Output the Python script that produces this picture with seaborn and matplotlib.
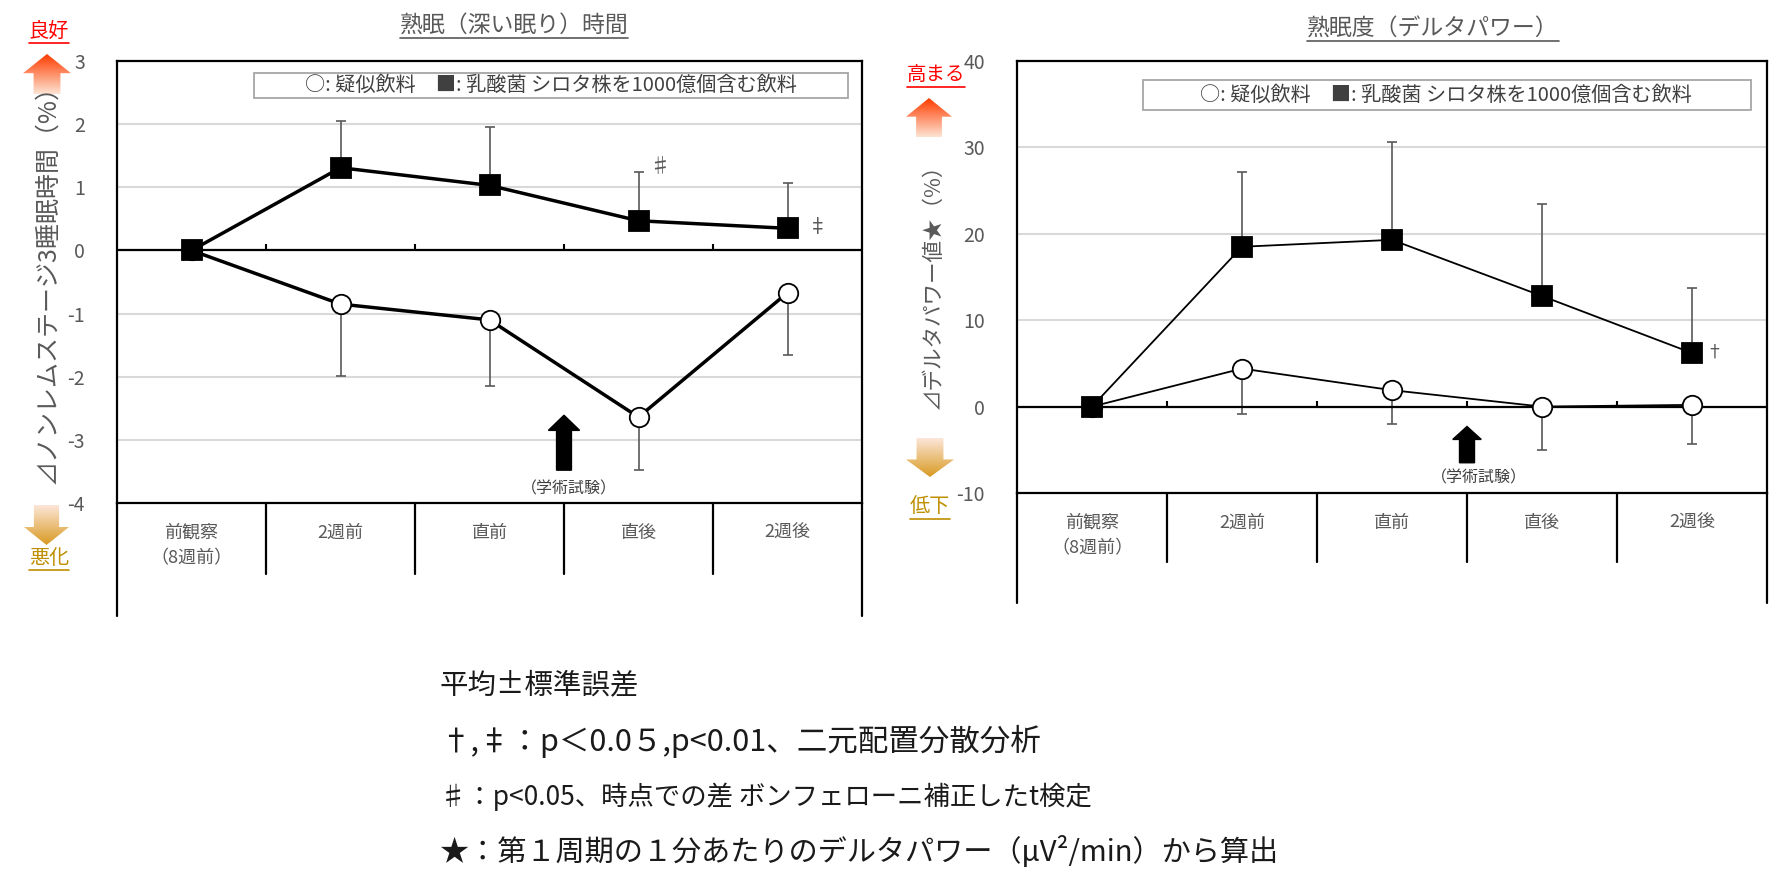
import numpy as np
import pandas as pd
import seaborn as sns
import matplotlib
matplotlib.use("agg")
import matplotlib.pyplot as plt
from matplotlib.colors import LinearSegmentedColormap
from matplotlib.patches import Polygon, Rectangle
from matplotlib.lines import Line2D

# data
categories = ['前観察\n（8週前）', '2週前', '直前', '直後', '2週後']
nrem_shirota = [0, 1.31, 1.03, 0.47, 0.35]
nrem_shirota_se = [0, 0.74, 0.93, 0.77, 0.72]
nrem_placebo = [0, -0.85, -1.10, -2.64, -0.67]
nrem_placebo_se = [0, 1.14, 1.04, 0.83, 0.99]
delta_shirota = [0, 18.5, 19.3, 12.8, 6.2]
delta_shirota_se = [0, 8.7, 11.3, 10.6, 7.5]
delta_placebo = [0, 4.4, 1.9, 0.0, 0.2]
delta_placebo_se = [0, 5.3, 3.9, 5.0, 4.5]

nrem_ticks = [-4, -3, -2, -1, 0, 1, 2, 3]
delta_ticks = [-10, 0, 10, 20, 30, 40]

legend_text = '○: 疑似飲料　■: 乳酸菌 シロタ株を1000億個含む飲料'
footnotes = ['平均±標準誤差',
             '†,‡：p＜0.0５,p<0.01、二元配置分散分析',
             '♯：p<0.05、時点での差 ボンフェローニ補正したt検定',
             '★：第１周期の１分あたりのデルタパワー（μV²/min）から算出']

sns.set_style('white')
plt.rcParams['font.family'] = ['Noto Sans CJK JP', 'DejaVu Sans']
plt.rcParams['axes.unicode_minus'] = False

W, H = 1787, 893
fig = plt.figure(figsize=(W / 100, H / 100), dpi=100)
GRAY = '#595959'


def px_rect(x0, y0, x1, y1):
    return [x0 / W, 1 - y1 / H, (x1 - x0) / W, (y1 - y0) / H]


def draw_panel(ax, shirota, shirota_se, placebo, placebo_se, ticks, lw):
    pos = list(range(len(categories)))
    ax.set_xlim(-0.5, 4.5)
    ax.set_ylim(ticks[0], ticks[-1])
    ax.set_yticks(ticks)
    ax.yaxis.grid(True, color='#d9d9d9', lw=1.5)
    ax.set_axisbelow(True)
    ax.axhline(0, color='black', lw=1.6, zorder=2)
    span = ticks[-1] - ticks[0]
    ax.vlines([0.5, 1.5, 2.5, 3.5], 0, span * 0.0135, color='black', lw=1.5, zorder=2)

    # error bars: one sided
    ax.errorbar(pos[1:], shirota[1:], yerr=[np.zeros(4), shirota_se[1:]], fmt='none',
                ecolor=GRAY, elinewidth=1.2, capsize=3.6, capthick=1.2, zorder=1)
    ax.errorbar(pos[1:], placebo[1:], yerr=[placebo_se[1:], np.zeros(4)], fmt='none',
                ecolor=GRAY, elinewidth=1.2, capsize=3.6, capthick=1.2, zorder=1)

    df = pd.DataFrame({'pos': pos, 'shirota': shirota, 'placebo': placebo})
    sns.lineplot(data=df, x='pos', y='placebo', ax=ax, color='black', lw=lw,
                 marker='o', markersize=14, markerfacecolor='white',
                 markeredgecolor='black', markeredgewidth=1.3, zorder=4)
    sns.lineplot(data=df, x='pos', y='shirota', ax=ax, color='black', lw=lw,
                 marker='s', markersize=14, markerfacecolor='black',
                 markeredgecolor='black', markeredgewidth=1.3, zorder=5)
    ax.set_xlabel('')
    ax.set_ylabel('')

    for s in ax.spines.values():
        s.set_color('black')
        s.set_linewidth(1.6)
    ax.set_xticks(pos)
    ax.set_xticklabels(categories, fontsize=13, color=GRAY, linespacing=1.5)
    ax.tick_params(axis='x', length=0, pad=15)
    ax.tick_params(axis='y', direction='in', length=7, width=1.5, color='black',
                   pad=23, labelsize=14, labelcolor=GRAY)

    # table below the axis
    ax.plot([0, 0], [0, -0.255], transform=ax.transAxes, clip_on=False, color='black', lw=1.6)
    ax.plot([1, 1], [0, -0.255], transform=ax.transAxes, clip_on=False, color='black', lw=1.6)
    tr = matplotlib.transforms.blended_transform_factory(ax.transData, ax.transAxes)
    for b in [0.5, 1.5, 2.5, 3.5]:
        ax.plot([b, b], [0, -0.16], transform=tr, clip_on=False, color='black', lw=1.6)


def grad_arrow(rect, up, c_head, c_tail, head_frac):
    a = fig.add_axes(rect)
    a.set_axis_off()
    a.set_xlim(0, 1)
    a.set_ylim(0, 1)
    if up:
        cmap = LinearSegmentedColormap.from_list('g', [c_tail, c_head])
        pts = [(0.22, 0), (0.78, 0), (0.78, 1 - head_frac), (1, 1 - head_frac),
               (0.5, 1), (0, 1 - head_frac), (0.22, 1 - head_frac)]
    else:
        cmap = LinearSegmentedColormap.from_list('g', [c_head, c_tail])
        pts = [(0.22, 1), (0.78, 1), (0.78, head_frac), (1, head_frac),
               (0.5, 0), (0, head_frac), (0.22, head_frac)]
    im = a.imshow(np.linspace(0, 1, 100).reshape(-1, 1), extent=[0, 1, 0, 1],
                  origin='lower', cmap=cmap, aspect='auto')
    poly = Polygon(pts, closed=True, transform=a.transData, facecolor='none', edgecolor='none')
    a.add_patch(poly)
    im.set_clip_path(poly)


# left panel: NREM stage 3
ax1 = fig.add_axes(px_rect(117, 61, 862, 503))
draw_panel(ax1, nrem_shirota, nrem_shirota_se, nrem_placebo, nrem_placebo_se, nrem_ticks, 2.5)
ax1.add_patch(Rectangle((0.184, 0.916), 0.797, 0.057, transform=ax1.transAxes,
                        facecolor='white', edgecolor='#a6a6a6', lw=1.3, zorder=6))
ax1.text(0.583, 0.945, legend_text, transform=ax1.transAxes, ha='center', va='center',
         fontsize=14.5, color='#404040', zorder=7)
ax1.text(3.14, 1.32, '♯', fontsize=15, color=GRAY, ha='center', va='center')
ax1.text(4.2, 0.37, '‡', fontsize=14, color=GRAY, ha='center', va='center')
ax1.arrow(2.5, -3.48, 0, 0.87, width=0.1, head_width=0.21, head_length=0.24,
          length_includes_head=True, color='black', zorder=3)
ax1.text(2.53, -3.77, '（学術試験）', fontsize=11.5, color='#404040', ha='center', va='center')

# right panel: delta power
ax2 = fig.add_axes(px_rect(1017, 61, 1767, 493))
draw_panel(ax2, delta_shirota, delta_shirota_se, delta_placebo, delta_placebo_se, delta_ticks, 1.3)
ax2.add_patch(Rectangle((0.168, 0.887), 0.811, 0.069, transform=ax2.transAxes,
                        facecolor='white', edgecolor='#a6a6a6', lw=1.3, zorder=6))
ax2.text(0.572, 0.921, legend_text, transform=ax2.transAxes, ha='center', va='center',
         fontsize=14.5, color='#404040', zorder=7)
ax2.text(4.15, 6.3, '†', fontsize=13, color=GRAY, ha='center', va='center')
ax2.arrow(2.5, -6.5, 0, 4.2, width=0.1, head_width=0.19, head_length=1.5,
          length_includes_head=True, color='black', zorder=3)
ax2.text(2.58, -8.3, '（学術試験）', fontsize=11.5, color='#404040', ha='center', va='center')

# titles, axis labels, side markers
t1 = fig.text(514 / W, 1 - 25 / H, '熟眠（深い眠り）時間', fontsize=16.5, color=GRAY,
              ha='center', va='center')
t2 = fig.text(1433 / W, 1 - 28 / H, '熟眠度（デルタパワー）', fontsize=16.5, color=GRAY,
              ha='center', va='center')
fig.text(47 / W, 1 - 278 / H, '⊿ノンレムステージ3睡眠時間（%）', rotation=90, fontsize=18,
         color=GRAY, ha='center', va='center')
fig.text(933 / W, 1 - 281 / H, '⊿デルタパワー値★（%）', rotation=90, fontsize=15.5,
         color=GRAY, ha='center', va='center')

s1 = fig.text(49 / W, 1 - 31 / H, '良好', fontsize=14.5, color='#ff0000', ha='center', va='center')
s2 = fig.text(49 / W, 1 - 558 / H, '悪化', fontsize=14.5, color='#bf8f00', ha='center', va='center')
s3 = fig.text(936 / W, 1 - 75 / H, '高まる', fontsize=14, color='#ff0000', ha='center', va='center')
s4 = fig.text(930 / W, 1 - 507 / H, '低下', fontsize=14.5, color='#bf8f00', ha='center', va='center')

grad_arrow(px_rect(23, 54, 71, 94), True, '#ff3c00', '#fde3d2', 0.48)
grad_arrow(px_rect(24, 505, 69, 545), False, '#d99a22', '#fce6d8', 0.45)
grad_arrow(px_rect(906, 98, 952, 137), True, '#ff3c00', '#fde3d2', 0.48)
grad_arrow(px_rect(906, 438, 954, 477), False, '#d99a22', '#fce6d8', 0.45)

# footnotes
for y, txt, fs in zip([685, 741, 797, 852], footnotes, [20.5, 22, 19, 21]):
    fig.text(440 / W, 1 - y / H, txt, fontsize=fs, color='#1a1a1a', ha='left', va='center')

# underlines
fig.canvas.draw()
r = fig.canvas.get_renderer()
for t, c in [(t1, GRAY), (t2, GRAY), (s1, '#ff0000'), (s2, '#bf8f00'), (s3, '#ff0000'), (s4, '#bf8f00')]:
    bb = t.get_window_extent(r)
    fig.add_artist(Line2D([bb.x0 / W, bb.x1 / W], [(bb.y0 - 1) / H, (bb.y0 - 1) / H],
                          transform=fig.transFigure, color=c, lw=1.2))

fig.savefig('out.png', dpi=100)
